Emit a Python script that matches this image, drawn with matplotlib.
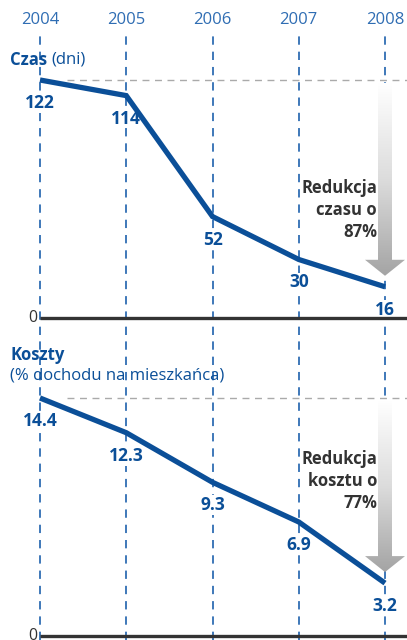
import numpy as np
import matplotlib
matplotlib.use("Agg")
import matplotlib.pyplot as plt
import matplotlib.transforms as mtransforms
from matplotlib.patches import Polygon

plt.rcParams['font.family'] = ['Open Sans', 'DejaVu Sans']
plt.rcParams['lines.scale_dashes'] = False

# data
years = [2004, 2005, 2006, 2007, 2008]
czas = [122, 114, 52, 30, 16]          # dni
koszty = [14.4, 12.3, 9.3, 6.9, 3.2]   # % dochodu na mieszkanca
czas_labels = ["122", "114", "52", "30", "16"]
koszty_labels = ["14.4", "12.3", "9.3", "6.9", "3.2"]

BLUE = "#0b4f98"
VBLUE = "#2f6db3"
DARK = "#333333"
GRAY = "#aaaaaa"

W, H = 407, 640
fig = plt.figure(figsize=(W / 100, H / 100), dpi=100)

# x range: 2004 at px 40, 2008 at px 385
pxy = (385 - 40) / 4
xlim = (2004 - 40 / pxy, 2004 + (W - 40) / pxy)


def make_axes(top_px, bot_px, zero_px, scale):
    ax = fig.add_axes([0, 1 - bot_px / H, 1, (bot_px - top_px) / H])
    ax.set_xlim(*xlim)
    ax.set_ylim((zero_px - bot_px) / scale, (zero_px - top_px) / scale)
    ax.axis("off")
    return ax


ax1 = make_axes(30, 335, 318, (318 - 80) / 122)
ax2 = make_axes(335, 640, 636, (636 - 398) / 14.4)


def arrow(ax, x, ytop, ytip, px_per_unit):
    shaft = 7 / pxy
    head = 20 / pxy
    head_h = 16 / px_per_unit
    pts = [(x - shaft, ytop), (x + shaft, ytop), (x + shaft, ytip + head_h),
           (x + head, ytip + head_h), (x, ytip), (x - head, ytip + head_h),
           (x - shaft, ytip + head_h)]
    poly = Polygon(pts, closed=True, facecolor="none", edgecolor="none")
    ax.add_patch(poly)
    grad = np.linspace(0, 1, 256).reshape(-1, 1)
    im = ax.imshow(grad, cmap=matplotlib.colors.LinearSegmentedColormap.from_list(
        "g", ["#ffffff", "#dcdcdc", "#a4a4a4"]),
        extent=[x - head, x + head, ytip, ytop], origin="upper", aspect="auto",
        zorder=1, vmin=0, vmax=1)
    im.set_clip_path(poly)


def panel(ax, vals, labels, px_per_unit, note, vtop):
    # vertical dashed year lines
    for yr in years:
        ax.axvline(yr, ymin=0, ymax=vtop, color=VBLUE, lw=1.3,
                   dashes=(6, 5), zorder=0)
    # gray reference level
    ax.plot([years[0] + 27 / pxy, xlim[1]], [vals[0], vals[0]], color=GRAY,
            lw=1.0, dashes=(5, 4), zorder=0)
    # baseline
    ax.plot([years[0], xlim[1]], [0, 0], color=DARK, lw=2.4, zorder=3,
            solid_capstyle="butt")
    ax.text(years[0] - 3 / pxy, 0, "0", ha="right", va="center", fontsize=11.5,
            color=DARK)
    # arrow
    arrow(ax, years[-1], vals[0] - 3 / px_per_unit,
          vals[-1] + 11 / px_per_unit, px_per_unit)
    ax.text(years[-1] - 8 / pxy, note[1], note[0], ha="right", va="center",
            fontsize=12, fontweight="bold", color=DARK, linespacing=1.3,
            zorder=4)
    # data line
    ax.plot(years, vals, color=BLUE, lw=3.8, zorder=3, solid_joinstyle="miter",
            solid_capstyle="butt")
    for yr, v, lb in zip(years, vals, labels):
        ax.annotate(lb, (yr, v), xytext=(0, -23), textcoords="offset pixels",
                    ha="center", va="center", fontsize=12.5, fontweight="bold",
                    color=BLUE, zorder=2.5,
                    bbox=dict(boxstyle="square,pad=0.05", fc="white",
                              ec="none"))


panel(ax1, czas, czas_labels, (318 - 80) / 122,
      ("Redukcja\nczasu o\n87%", (318 - 210) / ((318 - 80) / 122)),
      (335 - 35) / 305)
panel(ax2, koszty, koszty_labels, (636 - 398) / 14.4,
      ("Redukcja\nkosztu o\n77%", (636 - 481) / ((636 - 398) / 14.4)), 1.0)

# year labels
trans = mtransforms.blended_transform_factory(ax1.transData, fig.transFigure)
for yr in years:
    ax1.text(yr, 1 - 20 / H, str(yr), transform=trans, ha="center",
             va="center", fontsize=12, color=VBLUE)

# panel titles
t1 = fig.text(10 / W, 1 - 60 / H, "Czas", fontsize=12, fontweight="bold",
              color=BLUE, va="center", ha="left")
fig.canvas.draw()
ax1.annotate("(dni)", xy=(1, 0.5), xycoords=t1, xytext=(4, 0),
             textcoords="offset pixels", fontsize=12, color=BLUE,
             va="center", ha="left", annotation_clip=False)
fig.text(10 / W, 1 - 355 / H, "Koszty", fontsize=12, fontweight="bold",
         color=BLUE, va="center", ha="left")
fig.text(10 / W, 1 - 376 / H, "(% dochodu na mieszkańca)", fontsize=12,
         color=BLUE, va="center", ha="left")

fig.savefig("out.png", dpi=100)
